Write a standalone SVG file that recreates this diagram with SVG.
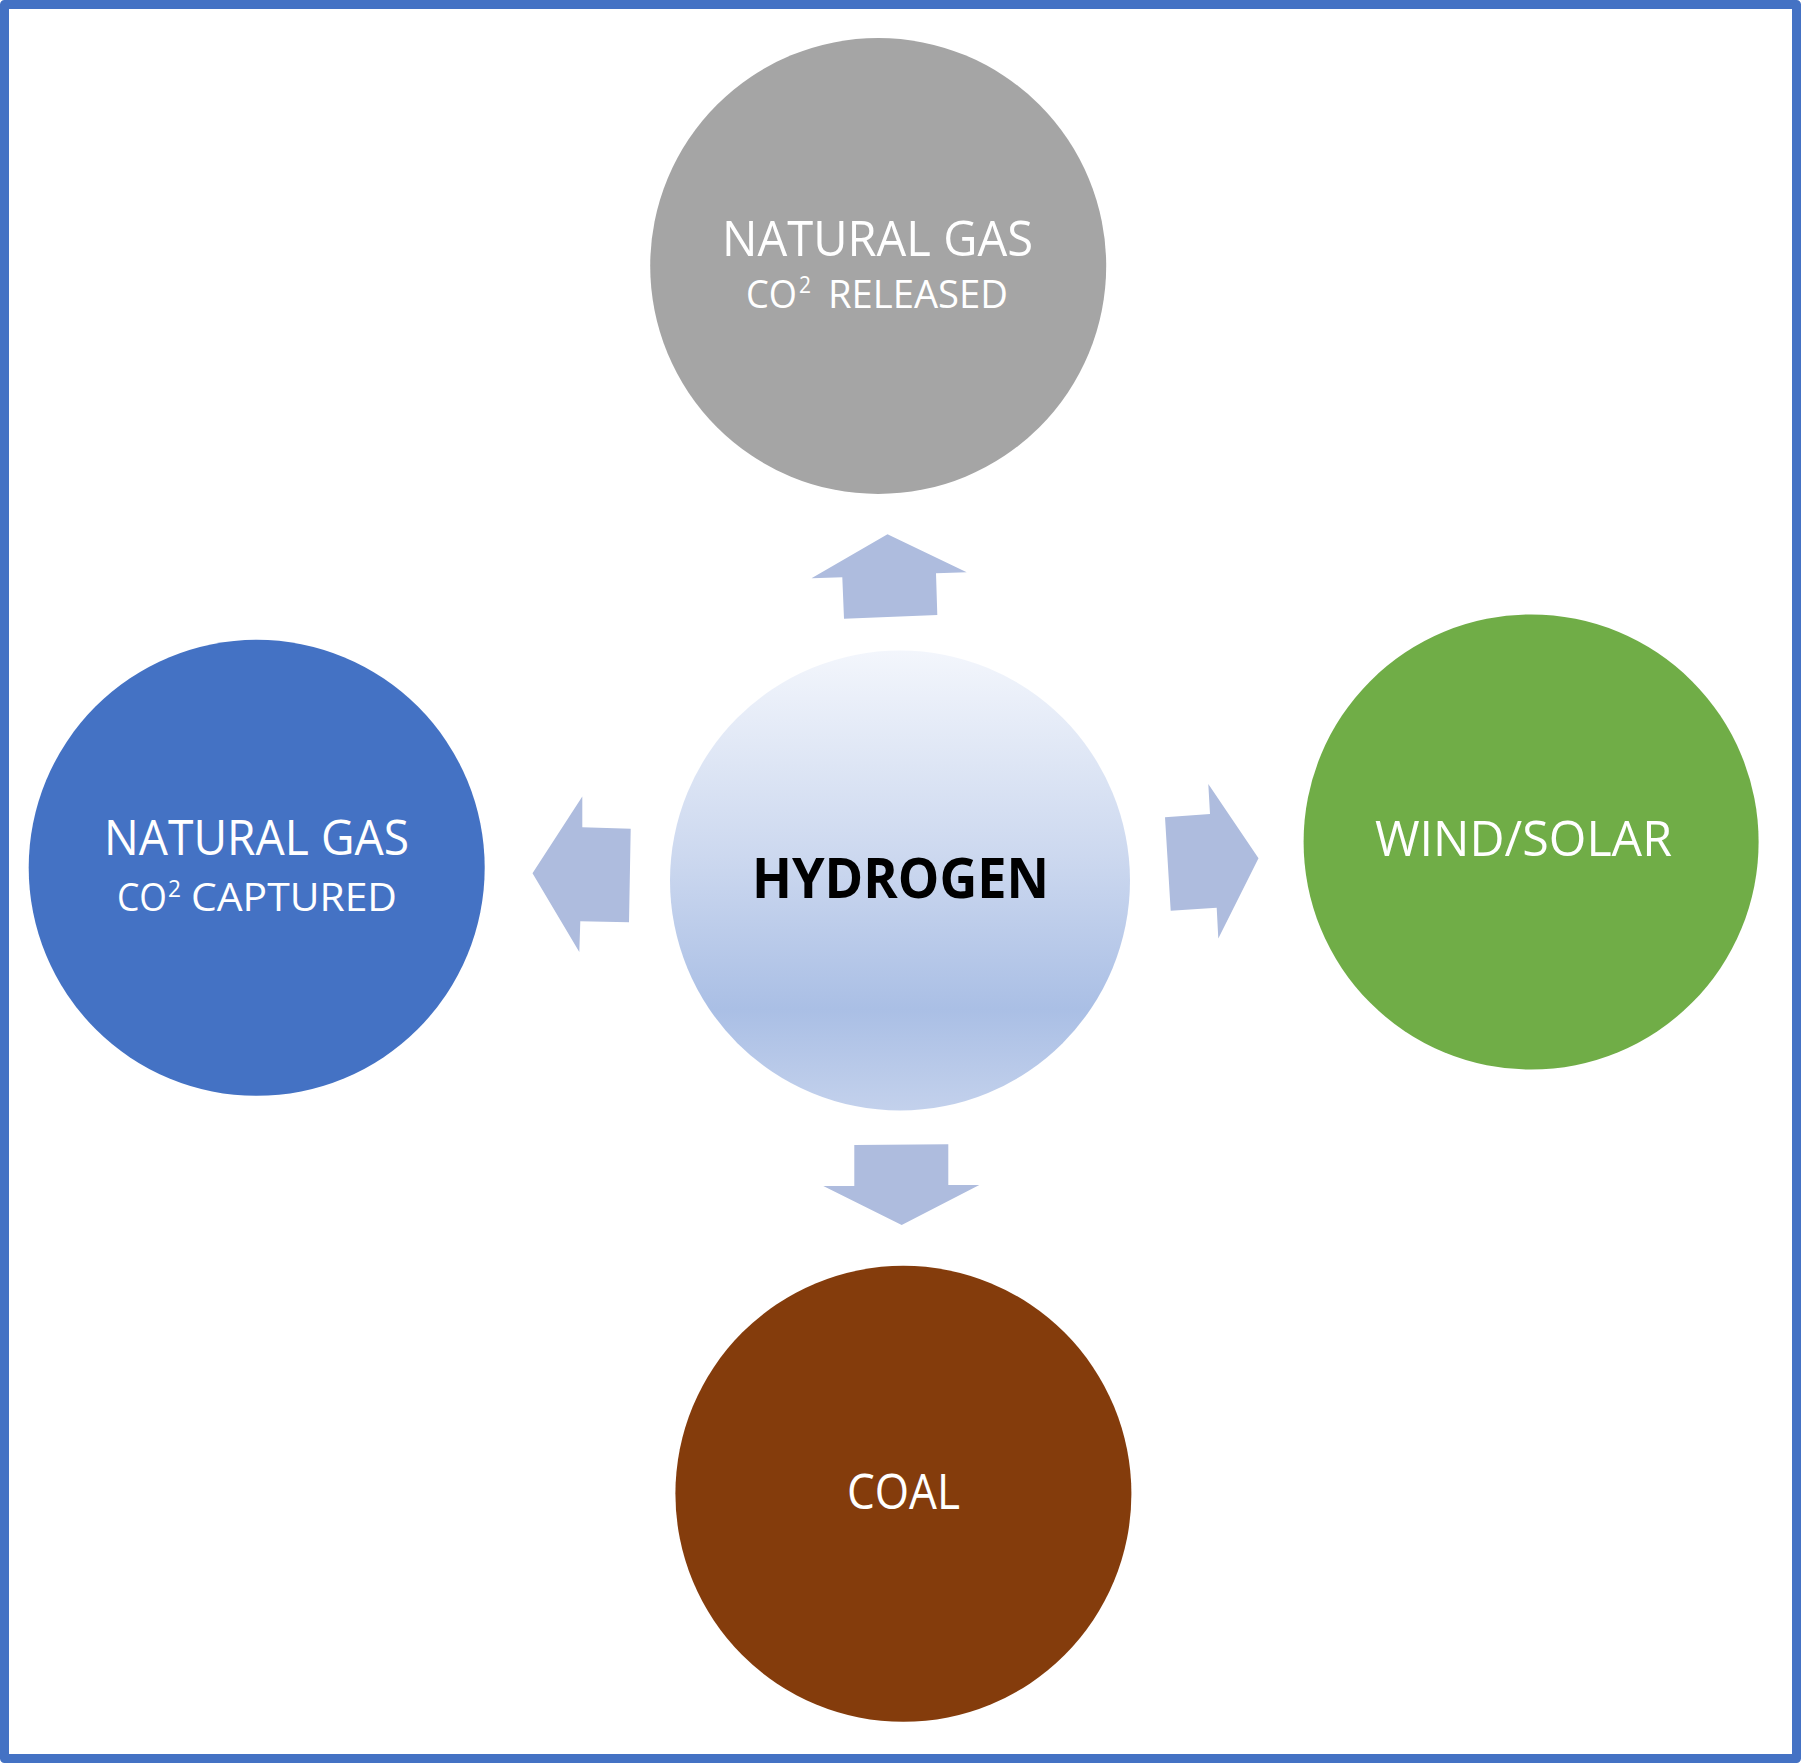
<svg xmlns="http://www.w3.org/2000/svg" width="1801" height="1763" viewBox="0 0 1801 1763">
  <defs>
    <linearGradient id="hydGrad" x1="0" y1="0" x2="0" y2="1">
      <stop offset="0" stop-color="#F3F6FC"/>
      <stop offset="0.45" stop-color="#CCD8EF"/>
      <stop offset="0.78" stop-color="#AABFE5"/>
      <stop offset="1" stop-color="#C3D1EC"/>
    </linearGradient>
    <style>
      .lbl { font-family: "Open Sans", "Liberation Sans", sans-serif; fill: #FFFFFF; }
      .l1 { font-size: 49px; }
      .l2 { font-size: 38px; }
      .sup { font-size: 24px; }
      .hyd { font-family: "Open Sans", "Liberation Sans", sans-serif; font-weight: bold; font-size: 56px; fill: #000000; }
      .arrow { fill: #AEBCDE; stroke: none; }
    </style>
  </defs>

  <rect x="0" y="0" width="1801" height="1763" fill="#FFFFFF"/>
  <rect x="4.5" y="4.5" width="1792" height="1754" fill="none" stroke="#4472C4" stroke-width="9" stroke-linejoin="round"/>

  <g id="connectors">
    <polygon class="arrow" points="887.5,534.3 966.7,572.3 936,573.3 937.3,615 844,618.7 842.3,577.3 811.5,578.3"/>
    <polygon class="arrow" points="532.5,873.3 582.3,796.5 582.3,827.3 630.7,828.7 629,922.3 580.3,921.3 579.3,952"/>
    <polygon class="arrow" points="1258.5,858.3 1208.3,784 1210,814 1165,817.3 1170.7,910.7 1216.7,907.7 1218.3,938.5"/>
    <polygon class="arrow" points="901.7,1225 979.3,1185 948.3,1185 948.3,1144.3 854.3,1145 854.3,1186 823.3,1186"/>
  </g>

  <g id="node-natural-gas-released">
    <circle cx="878.2" cy="266" r="228" fill="#A5A5A5"/>
    <text class="lbl l1" x="722" y="256" textLength="311" lengthAdjust="spacingAndGlyphs">NATURAL GAS</text>
    <text class="lbl l2" y="307.5"><tspan x="746" textLength="51" lengthAdjust="spacingAndGlyphs">CO</tspan><tspan class="sup" x="799" y="293" textLength="12" lengthAdjust="spacingAndGlyphs">2</tspan><tspan x="828" y="307.5" textLength="180" lengthAdjust="spacingAndGlyphs">RELEASED</tspan></text>
  </g>

  <g id="node-natural-gas-captured">
    <circle cx="256.7" cy="867.8" r="228" fill="#4472C4"/>
    <text class="lbl l1" x="104" y="855" textLength="305" lengthAdjust="spacingAndGlyphs">NATURAL GAS</text>
    <text class="lbl l2" y="911"><tspan x="117" textLength="50" lengthAdjust="spacingAndGlyphs">CO</tspan><tspan class="sup" x="168" y="897" textLength="13" lengthAdjust="spacingAndGlyphs">2</tspan><tspan x="191" y="911" textLength="206" lengthAdjust="spacingAndGlyphs">CAPTURED</tspan></text>
  </g>

  <g id="node-wind-solar">
    <circle cx="1531.1" cy="842" r="227.5" fill="#70AD47"/>
    <text class="lbl l1" x="1375" y="856" textLength="297" lengthAdjust="spacingAndGlyphs">WIND/SOLAR</text>
  </g>

  <g id="node-coal">
    <circle cx="903.4" cy="1493.8" r="228" fill="#843C0C"/>
    <text class="lbl l1" x="847" y="1509" textLength="113" lengthAdjust="spacingAndGlyphs">COAL</text>
  </g>

  <g id="node-hydrogen">
    <circle cx="900" cy="880.5" r="230" fill="url(#hydGrad)"/>
    <text class="hyd" x="752" y="898" textLength="297" lengthAdjust="spacingAndGlyphs">HYDROGEN</text>
  </g>
</svg>
